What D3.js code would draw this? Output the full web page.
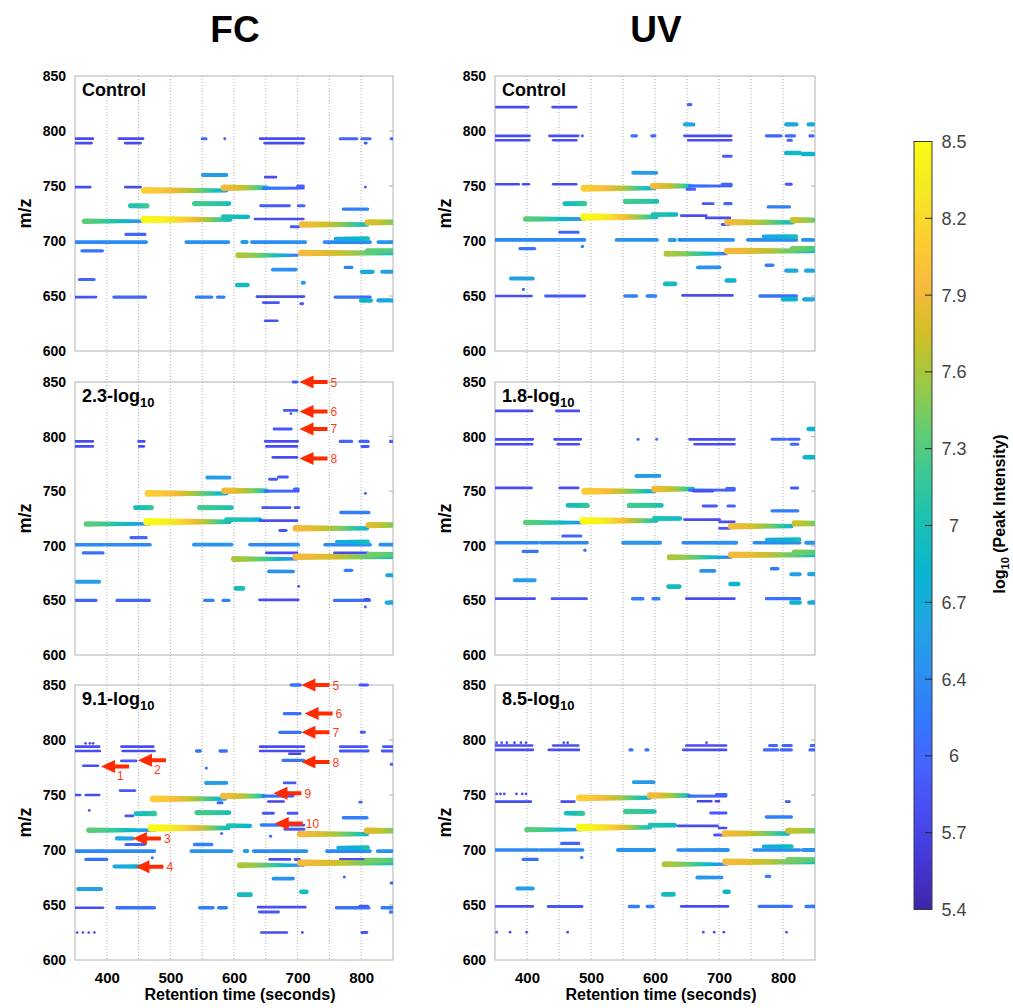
<!DOCTYPE html>
<html>
<head>
<meta charset="utf-8">
<script src="https://cdn.jsdelivr.net/npm/d3@7"></script>
<style>
  body { margin: 0; background: #fff; }
  svg text { font-family: "Liberation Sans", Arial, Helvetica, sans-serif; }
</style>
</head>
<body>
<div id="chart"></div>
<script>
// each feature: [rt start, rt end, m/z, log10 intensity at start, log10 intensity at end]
const fcControl = [
  [350,378,793,5.8,5.8],[419,457,793,5.8,5.8],[550,556,793,6.0,6.0],[585,586,793,5.9,5.9],
  [641,710,793,5.8,5.8],[767,793,793,6.0,6.0],[801,814,793,6.0,6.0],[847,850,793,6.0,6.0],
  [350,376,789,5.8,5.8],[429,453,789,5.8,5.8],[648,709,789,5.8,5.8],[806,808,789,5.9,5.9],
  [350,374,749,5.8,5.8],[429,453,749,5.8,5.8],[806,807,749,5.9,5.9],
  [551,588,760,6.5,6.4],[649,666,758,5.8,5.8],
  [459,588,746,8.1,6.5],[584,651,748.5,7.9,6.8],[646,709,748,6.2,5.8],[700,709,750,6.0,6.0],
  [437,463,732,7.0,7.2],[538,592,734,7.2,6.9],[642,687,732,5.9,5.9],[701,710,732,6.0,6.0],
  [772,810,729,6.2,6.2],
  [365,460,718,7.3,6.1],[459,594,719.5,8.5,6.7],[583,622,722,7.0,6.7],[633,709,720,5.8,5.8],
  [690,702,713,5.9,5.9],[707,809,715,7.9,6.7],[810,850,717,7.8,7.3],
  [430,460,706,6.0,6.0],
  [350,462,699,6.3,6.3],[525,591,699,6.4,6.4],[613,620,699,6.5,6.5],[628,712,699,6.3,6.4],
  [742,814,699,6.3,6.3],[760,810,702,6.6,7.0],[827,850,699,6.4,6.4],
  [361,393,691,6.1,6.1],[607,699,687,7.6,6.0],[706,850,689,7.9,6.8],[810,850,691,7.3,7.2],
  [775,785,676,6.2,6.2],[661,697,674,6.4,6.3],[801,818,672,6.6,6.6],[833,850,672,6.5,6.5],
  [357,380,665,6.0,6.0],[605,621,660,6.9,6.9],[708,710,662,6.5,6.5],
  [350,383,649,5.8,5.9],[411,461,649,6.0,6.0],[541,565,649,6.2,6.2],[574,584,649,6.2,6.2],
  [636,710,649.5,5.8,5.8],[759,814,649,6.1,6.1],[800,815,646,6.8,6.8],[827,850,646,6.6,6.6],
  [646,670,644,5.9,5.9],[705,708,643,5.9,5.9],[649,668,627.5,5.8,5.8]
];

const uvControl = [
  [352,389,821.7,5.8,5.8],[391,402,821.7,5.8,5.8],[440,477,821.7,5.8,5.8],[652,656,824,6.0,6.0],
  [647,660,806,6.6,6.5],[805,821,806,6.6,6.6],[840,847,806,6.6,6.6],
  [350,404,795.6,5.8,5.8],[435,480,795.6,5.8,5.8],[486,487,795.6,6.0,6.0],[564,571,795.6,6.1,6.1],
  [595,600,795.6,6.0,6.0],[646,719,795.6,5.8,5.8],[774,797,795.6,6.0,6.0],[805,818,795.6,6.0,6.0],
  [842,847,795.6,6.0,6.0],
  [350,403,791.6,5.8,5.8],[441,477,791.6,5.8,5.8],[652,719,791.6,5.8,5.8],[808,813,791.6,6.0,6.0],
  [805,826,780,6.8,6.9],[831,847,779,6.8,6.8],[707,719,777,5.9,5.9],[566,602,762,6.5,6.4],
  [350,387,751.6,5.8,5.8],[394,403,751.6,5.8,5.8],[441,477,751.6,5.8,5.8],[805,813,751.6,5.9,5.9],
  [489,599,748,8.1,6.5],[597,654,750,7.9,6.8],[654,719,750,6.1,5.8],[705,719,751.5,6.0,6.0],
  [650,662,747,6.0,6.0],
  [459,490,734,6.9,7.2],[554,603,736,7.2,6.9],[675,691,734,5.9,5.9],[709,719,734,6.0,6.0],
  [777,810,731,6.2,6.2],
  [398,490,720,7.3,6.1],[489,602,721.8,8.5,6.7],[597,633,724,7.0,6.8],[641,680,723,5.8,5.8],
  [680,717,721,5.8,5.8],[705,716,715,5.9,5.9],[713,815,717,7.9,6.7],[815,847,719,7.7,7.3],
  [451,480,708,6.0,6.0],
  [350,490,701,6.3,6.3],[540,603,701,6.4,6.4],[623,631,701,6.5,6.5],[638,722,701,6.3,6.4],
  [745,821,701,6.3,6.3],[770,820,704,6.6,7.0],[831,847,701,6.4,6.4],[486,487,695,6.3,6.3],
  [389,412,693,6.1,6.1],[618,711,688.5,7.6,6.0],[713,847,691,7.9,6.8],[815,847,693,7.4,7.2],
  [774,784,678,6.2,6.2],[667,701,676,6.4,6.3],[805,821,673,6.6,6.6],[836,847,673,6.6,6.6],
  [375,409,666,6.5,6.5],[616,631,661,6.9,6.9],[712,724,664,6.8,6.8],[394,395,656,6.0,6.0],
  [350,407,650,5.8,5.8],[429,490,650,5.9,5.9],[553,571,650,6.2,6.2],[588,601,650,6.2,6.2],
  [643,721,650.5,5.8,5.8],[764,821,650,6.1,6.1],[800,820,647,6.8,6.8],[833,847,647,6.6,6.6]
];

const fc23 = [
  [693,699,850,5.9,5.9],[679,699,824,5.9,5.9],[689,690,821,5.9,5.9],[663,690,807,5.9,5.9],
  [350,378,795.6,5.8,5.8],[450,459,795.6,5.8,5.8],[649,700,795.6,5.8,5.8],[767,785,795.6,6.0,6.0],
  [798,811,795.6,6.0,6.0],[846,850,795.6,6.0,6.0],
  [350,378,791,5.8,5.8],[451,458,791,5.8,5.8],[651,699,791,5.8,5.8],[801,811,791,5.9,5.9],
  [661,699,781,5.8,5.8],[670,684,763,5.9,5.9],[656,667,761,5.9,5.9],[558,593,762.5,6.5,6.4],
  [806,807,748,5.9,5.9],
  [465,588,748,8.1,6.5],[585,651,750.5,7.9,6.8],[649,701,750,6.1,5.8],[695,701,752,6.0,6.0],
  [445,470,735,6.9,7.2],[546,596,735,7.2,6.9],[645,688,735,5.9,5.9],[696,702,735,5.9,5.9],
  [768,812,730.5,6.2,6.2],
  [368,467,720,7.3,6.1],[463,593,722,8.5,6.7],[588,641,724,7.0,6.7],[641,699,723,5.8,5.8],
  [672,682,714,5.9,5.9],[697,809,716,7.9,6.7],[812,850,719,7.8,7.3],[438,462,707.5,6.0,6.0],
  [350,396,701,6.3,6.3],[399,468,701,6.3,6.3],[537,596,701,6.4,6.4],[625,701,701,6.3,6.4],
  [743,814,701,6.3,6.3],[762,810,703.5,6.6,7.0],[830,850,701,6.4,6.4],
  [363,394,693.5,6.1,6.1],[651,699,693.5,5.8,5.8],[758,810,693.5,5.8,5.8],
  [600,699,688,7.6,6.0],[697,850,690,7.9,6.8],[812,850,692,7.4,7.2],
  [775,785,677.5,6.2,6.2],[655,693,676.5,6.4,6.3],[841,850,673,6.6,6.6],[353,388,667,6.5,6.5],
  [701,702,663,6.0,6.0],[603,614,661,6.9,6.9],
  [350,383,650,6.0,6.0],[416,467,650,6.0,6.0],[554,567,650,6.2,6.2],[583,592,650,6.2,6.2],
  [640,701,650.5,5.8,5.8],[758,813,650,6.1,6.1],[806,812,651,5.8,5.8],[840,850,648,6.6,6.6],
  [806,807,644,5.9,5.9]
];

const uv18 = [
  [351,408,823.5,5.8,5.8],[446,481,823.5,5.8,5.8],[840,849,807,6.7,6.7],
  [351,409,797.5,5.8,5.8],[443,484,797.5,5.8,5.8],[573,574,797.5,6.0,6.0],[602,603,797.5,6.0,6.0],
  [654,724,797.5,5.8,5.8],[783,804,797.5,6.0,6.0],[808,825,797.5,6.0,6.0],
  [351,408,793,5.8,5.8],[448,481,793,5.8,5.8],[662,724,793,5.8,5.8],[813,823,793,6.0,6.0],
  [834,849,781,6.8,6.8],[571,607,764,6.5,6.4],
  [351,407,753,5.8,5.8],[451,480,753,5.8,5.8],[813,823,753,5.9,5.9],
  [490,599,750,8.1,6.5],[599,659,752,7.9,6.8],[654,724,751,6.1,5.8],[712,724,752.5,6.0,6.0],
  [660,690,750,5.8,5.8],
  [464,494,737,6.9,7.2],[560,610,737,7.2,6.9],[675,696,736.5,5.9,5.9],[714,724,736.5,6.0,6.0],
  [783,823,732,6.2,6.2],
  [398,490,721.3,7.3,6.1],[488,602,723,8.5,6.7],[599,639,725,7.0,6.8],[646,701,724,5.8,5.8],
  [701,724,722,5.8,5.8],[701,717,716,5.9,5.9],[719,813,718,7.9,6.7],[818,849,720.5,7.7,7.3],
  [456,484,709,6.0,6.0],
  [351,417,702.8,6.3,6.3],[421,494,702.8,6.3,6.3],[550,608,702.8,6.4,6.4],[644,727,702.8,6.3,6.4],
  [755,826,702.8,6.3,6.3],[775,825,705.5,6.6,7.0],[836,849,702.8,6.4,6.4],
  [490,491,696,6.2,6.2],[394,416,694.8,6.1,6.1],
  [623,719,689.5,7.6,6.0],[719,849,691.7,7.9,6.8],[818,849,694,7.4,7.2],
  [782,792,679,6.2,6.2],[672,693,677,6.4,6.3],[813,826,674,6.5,6.5],[841,849,674,6.6,6.6],
  [381,412,668.5,6.5,6.5],[718,730,665,6.8,6.8],[621,638,662.7,6.9,6.9],
  [351,412,651.6,5.8,5.8],[439,493,651.6,5.9,5.9],[565,581,651.6,6.2,6.2],[597,606,651.6,6.2,6.2],
  [649,724,651.6,5.8,5.8],[774,826,651.6,6.1,6.1],[813,826,648,6.8,6.8],[841,849,648,6.6,6.6]
];

const fc91 = [
  [690,704,850,6.1,6.1],[798,810,850,5.9,5.9],[679,704,824,6.1,6.1],[672,704,807,6.1,6.1],
  [800,805,807,5.9,5.9],
  [366,367,797,5.8,5.8],[373,374,797,5.8,5.8],[378,379,797,5.8,5.8],
  [350,388,794,5.8,5.8],[423,473,794,5.8,5.8],[641,710,794,5.8,5.8],[767,809,794,5.9,5.9],
  [835,850,794,5.9,5.9],
  [350,389,790,5.8,5.8],[425,475,790,5.8,5.8],[541,547,790,6.1,6.1],[578,588,790,6.1,6.1],
  [641,710,790,5.8,5.8],[767,811,790,5.9,5.9],[833,850,790,5.9,5.9],[687,704,787.5,5.7,5.7],
  [677,710,781.5,6.1,6.2],[423,446,781,5.9,5.9],[363,386,776.6,5.8,5.8],[556,557,774.5,6.0,6.0],
  [847,849,778,6.0,6.0],
  [556,588,761,6.5,6.4],[679,696,761,5.9,5.9],[421,444,754,5.9,5.9],
  [350,358,750,5.8,5.8],[367,388,750,5.8,5.8],
  [473,586,746.5,8.1,6.5],[583,646,749,7.9,6.8],[646,693,749,6.1,5.8],[654,678,744,5.7,5.7],
  [575,581,743,6.0,6.0],[798,800,743.5,5.9,5.9],[372,373,736,5.9,5.9],
  [446,475,733,6.9,7.2],[542,592,734,7.2,6.9],[646,662,733.4,5.9,5.9],[685,699,733.4,5.9,5.9],
  [430,441,731,5.9,5.9],[772,809,729.4,6.2,6.2],
  [372,475,718,7.3,6.1],[470,591,720,8.5,6.7],[591,625,722,7.0,6.7],[643,710,722.7,6.2,5.8],
  [680,710,718.8,5.9,5.9],[580,581,715,6.0,6.0],[657,658,712.6,6.0,6.0],
  [704,809,714.5,7.9,6.7],[809,850,717.5,7.8,7.3],
  [416,441,710.5,6.6,6.5],[430,459,705,6.0,6.0],[538,565,705,6.2,6.2],
  [350,391,699,6.3,6.3],[391,475,699,6.3,6.3],[533,596,699,6.4,6.4],[617,621,699,6.5,6.5],
  [631,714,699,6.3,6.4],[746,814,699,6.3,6.3],[764,810,702,6.6,7.0],[826,850,699,6.4,6.4],
  [471,472,693,6.0,6.0],[367,400,691.4,6.1,6.1],[656,688,691.4,5.8,5.8],[696,703,691.4,5.9,5.9],
  [767,811,691.4,5.8,5.8],
  [412,451,685,6.6,6.8],[609,709,686.2,7.6,6.0],[704,850,688.3,7.9,6.8],[809,850,690.5,7.4,7.2],
  [773,774,675.5,6.0,6.0],[662,693,674,6.4,6.3],[847,849,670,6.0,6.0],
  [355,391,664.6,6.5,6.5],[706,714,662,6.9,6.9],[608,626,659.4,6.9,6.9],
  [350,394,647.5,5.8,5.8],[416,475,647.5,6.1,6.1],[546,567,647.5,6.2,6.2],[576,588,647.5,6.2,6.2],
  [638,712,648,5.8,5.8],[761,812,647.5,6.1,6.1],[798,810,649,5.9,5.9],[833,850,647.5,6.2,6.2],
  [640,670,643.6,5.9,5.9],[846,848,643.6,6.2,6.2],
  [353,354,625,5.7,5.7],[362,363,625,5.7,5.7],[371,372,625,5.7,5.7],[380,381,625,5.7,5.7],
  [643,683,625,5.8,5.8],[707,708,625,5.9,5.9],[801,809,625,5.9,5.9]
];

const uv85 = [
  [352,353,797.6,5.8,5.8],[360,361,797.6,5.8,5.8],[368,369,797.6,5.8,5.8],[380,381,797.6,5.8,5.8],
  [390,391,797.6,5.8,5.8],[398,399,797.6,5.8,5.8],[457,458,797.6,5.8,5.8],[463,464,797.6,5.8,5.8],
  [680,681,797.6,5.8,5.8],
  [351,408,795,5.8,5.8],[441,480,795,5.8,5.8],[649,711,795,5.8,5.8],[779,790,795,6.0,6.0],
  [800,813,795,6.0,6.0],[844,850,795,6.0,6.0],
  [351,409,791,5.8,5.8],[434,481,791,5.8,5.8],[561,564,791,6.1,6.1],[586,589,791,6.1,6.1],
  [644,711,791,5.8,5.8],[771,792,791,6.0,6.0],[797,813,791,6.0,6.0],[842,850,791,6.0,6.0],
  [567,598,761.7,6.5,6.4],
  [352,353,751,5.8,5.8],[358,359,751,5.8,5.8],[364,365,751,5.8,5.8],[383,384,751,5.8,5.8],
  [392,393,751,5.8,5.8],[398,399,751,5.8,5.8],
  [351,406,744,5.8,5.8],[454,474,744,5.8,5.8],
  [482,592,747.4,8.1,6.5],[592,652,749.5,7.9,6.8],[652,711,749,6.1,5.8],[696,711,750.5,6.0,6.0],
  [667,675,744.3,5.7,5.7],[677,688,744.3,5.7,5.7],[695,700,744.3,5.7,5.7],[805,810,744,5.9,5.9],
  [461,487,733.4,6.9,7.2],[554,599,735,7.2,6.9],[687,711,733.7,5.9,5.9],[774,813,730,6.2,6.2],
  [400,485,718.5,7.3,6.1],[482,592,720.5,8.5,6.7],[592,631,722.5,7.0,6.8],[636,698,722,5.8,5.8],
  [700,711,720,5.8,5.8],[693,708,713.6,5.9,5.9],[709,808,715,7.9,6.7],[808,850,717.5,7.7,7.3],
  [454,481,706,6.0,6.0],
  [351,417,700,6.3,6.3],[420,487,700,6.3,6.3],[542,599,700,6.4,6.4],[636,714,700,6.3,6.4],
  [755,826,700,6.3,6.3],[770,813,703,6.6,7.0],[831,850,700,6.4,6.4],
  [485,486,693.2,6.2,6.2],[394,416,691.4,6.1,6.1],
  [615,711,687,7.6,6.0],[710,850,689.2,7.9,6.8],[808,850,691,7.4,7.2],
  [774,779,676,6.2,6.2],[666,704,675,6.4,6.3],[385,409,665,6.5,6.5],[709,715,662,6.8,6.8],
  [613,629,659.7,6.9,6.9],
  [351,409,648.7,5.8,5.8],[433,486,648.7,5.9,5.9],[560,574,648.7,6.2,6.2],[588,597,648.7,6.2,6.2],
  [641,714,648.7,5.8,5.8],[763,813,648.7,6.1,6.1],[836,850,648.7,6.2,6.2],
  [352,353,625.3,5.8,5.8],[373,374,625.3,5.8,5.8],[399,400,625.3,5.8,5.8],[463,464,625.3,5.8,5.8],
  [675,676,625.3,5.8,5.8],[692,693,625.3,5.8,5.8],[707,708,625.3,5.8,5.8],[805,806,625.3,5.8,5.8]
];

// red arrows: [rt of tip, m/z of tip, label]
const arrowsFc23 = [[703,850,'5'],[703,823,'6'],[703,807,'7'],[703,780,'8']];
const arrowsFc91 = [
  [391,776,'1'],[449,781.5,'2'],[441,710.5,'3'],[445,684.7,'4'],
  [706,850,'5'],[711,824,'6'],[706,807,'7'],[706,780,'8'],[662,751.6,'9'],[664,724,'10']
];

const columnTitles = ['FC', 'UV'];
const panelLabels = [['Control', 'Control'], ['2.3-log10', '1.8-log10'], ['9.1-log10', '8.5-log10']];
const rtTicks = [400, 500, 600, 700, 800];
const rtGrid = [400, 450, 500, 550, 600, 650, 700, 750, 800];
const mzTicks = [600, 650, 700, 750, 800, 850];
const cbarLabels = ['8.5', '8.2', '7.9', '7.6', '7.3', '7', '6.7', '6.4', '6', '5.7', '5.4'];
const parula = ['#3e26a8','#4537d5','#484cf0','#4563fd','#327bfc','#2b91ef','#20a5e3','#08b4d0',
  '#19bfb6','#37c897','#64cd6f','#9dc943','#d1bf27','#f8ba3d','#fccf30','#f5e924','#f9fb15'];

const W = 1013, H = 1008;
const cols = [{x0: 75, x1: 393}, {x0: 495, x1: 815}];
const rows = [{y0: 76, y1: 351}, {y0: 382, y1: 655}, {y0: 685, y1: 960}];
const panelData = [[fcControl, uvControl], [fc23, uv18], [fc91, uv85]];
const panelArrows = [[[], []], [arrowsFc23, []], [arrowsFc91, []]];
const fontStack = '"Liberation Sans", Arial, Helvetica, sans-serif';

const svg = d3.select('#chart').append('svg')
  .attr('width', W).attr('height', H);
const defs = svg.append('defs');

const vMin = 5.4, vMax = 8.5;
const color = d3.scaleLinear()
  .domain(parula.map((c, i) => vMin + (vMax - vMin) * i / (parula.length - 1)))
  .range(parula)
  .clamp(true);
const radius = d3.scaleLinear().domain([vMin, vMax]).range([1.0, 3.8]);

function streakPath(xa, xb, y, ra, rb) {
  return `M${xa},${y - ra}L${xb},${y - rb}A${rb},${rb} 0 0 1 ${xb},${y + rb}` +
         `L${xa},${y + ra}A${ra},${ra} 0 0 1 ${xa},${y - ra}Z`;
}

let gid = 0;

// column titles
columnTitles.forEach((t, c) => {
  svg.append('text')
    .attr('x', (cols[c].x0 + cols[c].x1) / 2 + 1)
    .attr('y', 42)
    .attr('text-anchor', 'middle')
    .attr('font-size', 37).attr('font-weight', 'bold')
    .text(t);
});

// grid lines run through the whole column
cols.forEach(col => {
  const x = d3.scaleLinear().domain([350, 850]).range([col.x0, col.x1]);
  svg.append('g').selectAll('line').data(rtGrid).join('line')
    .attr('x1', d => x(d)).attr('x2', d => x(d))
    .attr('y1', rows[0].y0).attr('y2', rows[2].y1)
    .attr('stroke', '#9a9a9a').attr('stroke-width', 0.8)
    .attr('stroke-dasharray', '1,2');
});

rows.forEach((row, r) => {
  cols.forEach((col, c) => {
    const x = d3.scaleLinear().domain([350, 850]).range([col.x0, col.x1]);
    const y = d3.scaleLinear().domain([600, 850]).range([row.y1, row.y0]);
    const g = svg.append('g');

    const clipId = `clip-${r}-${c}`;
    defs.append('clipPath').attr('id', clipId)
      .append('rect').attr('x', col.x0).attr('y', row.y0 - 4)
      .attr('width', col.x1 - col.x0).attr('height', row.y1 - row.y0 + 4);

    // frame
    g.append('rect')
      .attr('x', col.x0).attr('y', row.y0)
      .attr('width', col.x1 - col.x0).attr('height', row.y1 - row.y0)
      .attr('fill', 'none').attr('stroke', '#b0b0b0').attr('stroke-width', 1);

    // y axis labels
    const yAxis = d3.axisLeft(y).tickValues(mzTicks).tickSize(0).tickPadding(9);
    const ya = g.append('g').attr('transform', `translate(${col.x0},0)`).call(yAxis);
    ya.select('.domain').remove();
    ya.selectAll('text').attr('font-size', 14).attr('font-weight', 'bold')
      .attr('font-family', fontStack).attr('fill', '#000');
    // small inward ticks on the right side
    g.append('g').selectAll('line').data(mzTicks.slice(1, -1)).join('line')
      .attr('x1', col.x1 - 4).attr('x2', col.x1)
      .attr('y1', d => y(d)).attr('y2', d => y(d))
      .attr('stroke', '#b0b0b0');

    g.append('text')
      .attr('transform', `translate(${col.x0 - 44},${(row.y0 + row.y1) / 2}) rotate(-90)`)
      .attr('text-anchor', 'middle')
      .attr('font-size', 18).attr('font-weight', 'bold')
      .text('m/z');

    // features
    const marks = g.append('g').attr('clip-path', `url(#${clipId})`);
    panelData[r][c].forEach(d => {
      const [t0, t1, mz, v0, v1] = d;
      const xa = x(t0), xb = x(t1), yy = y(mz);
      const ra = radius(v0), rb = radius(v1);
      let fill;
      if (v0 === v1) {
        fill = color(v0);
      } else {
        const id = 'g' + (gid++);
        const grad = defs.append('linearGradient').attr('id', id)
          .attr('gradientUnits', 'userSpaceOnUse')
          .attr('x1', xa - ra).attr('x2', xb + rb).attr('y1', 0).attr('y2', 0);
        d3.range(0, 1.001, 0.125).forEach(k => {
          grad.append('stop').attr('offset', k)
            .attr('stop-color', color(v0 + (v1 - v0) * d3.easeQuadIn(k)));
        });
        fill = `url(#${id})`;
      }
      if (xb - xa < 1) {
        marks.append('circle').attr('cx', (xa + xb) / 2).attr('cy', yy)
          .attr('r', Math.max(ra, 1.1)).attr('fill', fill);
      } else {
        marks.append('path').attr('d', streakPath(xa, xb, yy, ra, rb)).attr('fill', fill);
      }
    });

    // panel label
    const lab = panelLabels[r][c];
    const lt = g.append('text')
      .attr('x', col.x0 + 7).attr('y', row.y0 + 20)
      .attr('font-size', 18).attr('font-weight', 'bold');
    if (lab.endsWith('log10')) {
      lt.append('tspan').text(lab.replace(/10$/, ''));
      lt.append('tspan').attr('font-size', 13).attr('dy', 5).text('10');
    } else {
      lt.text(lab);
    }

    // arrows
    panelArrows[r][c].forEach(a => {
      const ax = x(a[0]), ay = y(a[1]);
      g.append('path')
        .attr('d', `M${ax},${ay}L${ax + 14},${ay - 6.5}L${ax + 14},${ay - 2}L${ax + 28},${ay - 2}` +
                   `L${ax + 28},${ay + 2}L${ax + 14},${ay + 2}L${ax + 14},${ay + 6.5}Z`)
        .attr('fill', '#ff2a00');
      const below = a[2] === '1' || a[2] === '2';
      g.append('text')
        .attr('x', below ? ax + 16 : ax + 31)
        .attr('y', below ? ay + 14 : ay + 4.5)
        .attr('font-size', 12).attr('fill', '#ff3a1a')
        .text(a[2]);
    });

    // bottom row x axis
    if (r === rows.length - 1) {
      const xAxis = d3.axisBottom(x).tickValues(rtTicks).tickSize(0).tickPadding(12);
      const xa2 = g.append('g').attr('transform', `translate(0,${row.y1})`).call(xAxis);
      xa2.select('.domain').remove();
      xa2.selectAll('text').attr('font-size', 15).attr('font-weight', 'bold')
        .attr('font-family', fontStack).attr('fill', '#000');
      g.append('text')
        .attr('x', (col.x0 + col.x1) / 2 + 6).attr('y', 1000)
        .attr('text-anchor', 'middle')
        .attr('font-size', 16).attr('font-weight', 'bold')
        .text('Retention time (seconds)');
    }
  });
});

// colour bar
const cb = {x: 914, w: 18, y0: 141.5, y1: 909.5};
const cbGrad = defs.append('linearGradient').attr('id', 'cbar')
  .attr('x1', 0).attr('x2', 0).attr('y1', 1).attr('y2', 0);
parula.forEach((c, i) => {
  cbGrad.append('stop').attr('offset', i / (parula.length - 1)).attr('stop-color', c);
});
svg.append('rect')
  .attr('x', cb.x).attr('y', cb.y0).attr('width', cb.w).attr('height', cb.y1 - cb.y0)
  .attr('fill', 'url(#cbar)').attr('stroke', '#3a3a3a').attr('stroke-width', 1);
const cbScale = d3.scalePoint().domain(cbarLabels).range([cb.y0, cb.y1]);
svg.append('g').selectAll('line').data(cbarLabels.slice(1, -1)).join('line')
  .attr('x1', cb.x + cb.w - 7).attr('x2', cb.x + cb.w)
  .attr('y1', d => cbScale(d)).attr('y2', d => cbScale(d))
  .attr('stroke', '#222').attr('stroke-width', 1);
svg.append('g').selectAll('text').data(cbarLabels).join('text')
  .attr('x', 954).attr('y', d => cbScale(d)).attr('dy', '0.36em')
  .attr('text-anchor', 'middle')
  .attr('font-size', 18).attr('fill', '#444')
  .text(d => d);
const ct = svg.append('text')
  .attr('transform', 'translate(1005,514) rotate(-90)')
  .attr('text-anchor', 'middle')
  .attr('font-size', 16).attr('font-weight', 'bold');
ct.append('tspan').text('log');
ct.append('tspan').attr('font-size', 11).attr('dy', 4).text('10');
ct.append('tspan').attr('dy', -4).text(' (Peak Intensity)');
</script>
</body>
</html>
